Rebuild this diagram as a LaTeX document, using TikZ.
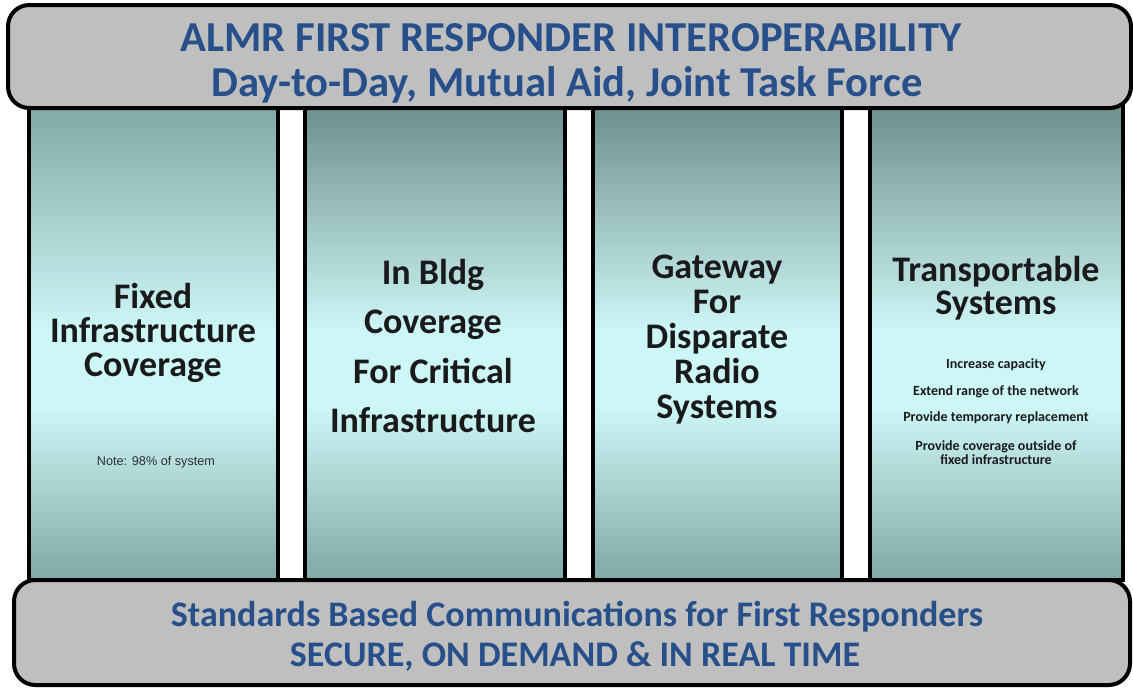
\documentclass[tikz,border=0pt]{standalone}
\usepackage{fontspec}
\setmainfont{Carlito}
\newfontfamily\notefont{Liberation Sans}
\definecolor{bannerfill}{HTML}{BFBFBF}
\definecolor{titleblue}{HTML}{27508A}
\definecolor{coltop}{HTML}{6C8D89}
\definecolor{coltopA}{HTML}{7FA6A4}
\definecolor{colmid}{HTML}{CDF6F6}
\definecolor{colbot}{HTML}{80A8A6}
\definecolor{textdark}{HTML}{1A1A1A}
\definecolor{notegray}{HTML}{2E2E2E}
\pgfdeclareverticalshading{colshade}{100bp}{color(0bp)=(colbot); color(25bp)=(colbot); color(43bp)=(colmid); color(51bp)=(colmid); color(75bp)=(coltop); color(100bp)=(coltop)}
\pgfdeclareverticalshading{colshadeA}{100bp}{color(0bp)=(colbot); color(25bp)=(colbot); color(43bp)=(colmid); color(51bp)=(colmid); color(75bp)=(coltopA); color(100bp)=(coltopA)}
\tikzset{
  banner/.style={draw=black, line width=3pt, rounded corners=16pt, fill=bannerfill},
  colbox/.style={draw=black, line width=2.3pt, shading=colshade},
  colboxA/.style={draw=black, line width=2.3pt, shading=colshadeA},
  bannertext/.style={text=titleblue, font=\bfseries\fontsize{32}{38}\selectfont, align=center},
  bottomtext/.style={text=titleblue, font=\bfseries\fontsize{27}{30}\selectfont, align=center},
  headtext/.style={text=textdark, font=\bfseries\fontsize{27}{25.5}\selectfont, align=center},
  smalltext/.style={text=textdark, font=\bfseries\fontsize{10.5}{10.5}\selectfont, align=center},
  notetext/.style={text=notegray, font=\notefont\fontsize{9.5}{11}\selectfont},
}
\begin{document}
\begin{tikzpicture}[x=0.75pt,y=-0.75pt]
\useasboundingbox (0,0) rectangle (1133,687);
\fill[white] (0,0) rectangle (1133,687);
% columns
\shade[colboxA] (29,100) rectangle (278,580);
\shade[colbox] (305,100) rectangle (565,580);
\shade[colbox] (593,100) rectangle (842,580);
\shade[colbox] (870,100) rectangle (1123,580);
% banners
\path[banner] (8,5) rectangle (1131,108);
\path[banner] (14,580) rectangle (1130,685);
% banner texts
\node[bannertext] (t1) at (571,38) {ALMR FIRST RESPONDER INTEROPERABILITY};
\node[bannertext] (t2) at (567,85) {Day-to-Day, Mutual Aid, Joint Task Force};
\node[bottomtext] (b1) at (577,617) {Standards Based Communications for First Responders};
\node[bottomtext] (b2) at (575,656) {SECURE, ON DEMAND \& IN REAL TIME};
% column texts
\node[headtext] (c1) at (153,333) {Fixed\\Infrastructure\\Coverage};
\node[notetext] (n1) at (156,462) {Note: 98\% of system};
\node[headtext, font=\bfseries\fontsize{27}{37}\selectfont] (c2) at (433,346) {In Bldg\\Coverage\\For Critical\\Infrastructure};
\node[headtext, font=\bfseries\fontsize{27}{26.25}\selectfont] (c3) at (717,340) {Gateway\\For\\Disparate\\Radio\\Systems};
\node[headtext, font=\bfseries\fontsize{27}{25}\selectfont] (c4) at (996,288) {Transportable\\Systems};
\node[smalltext] (s1) at (996,365) {Increase capacity};
\node[smalltext] (s2) at (996,392) {Extend range of the network};
\node[smalltext] (s3) at (996,418) {Provide temporary replacement};
\node[smalltext] (s4) at (996,453) {Provide coverage outside of\\fixed infrastructure};
\end{tikzpicture}
\end{document}
